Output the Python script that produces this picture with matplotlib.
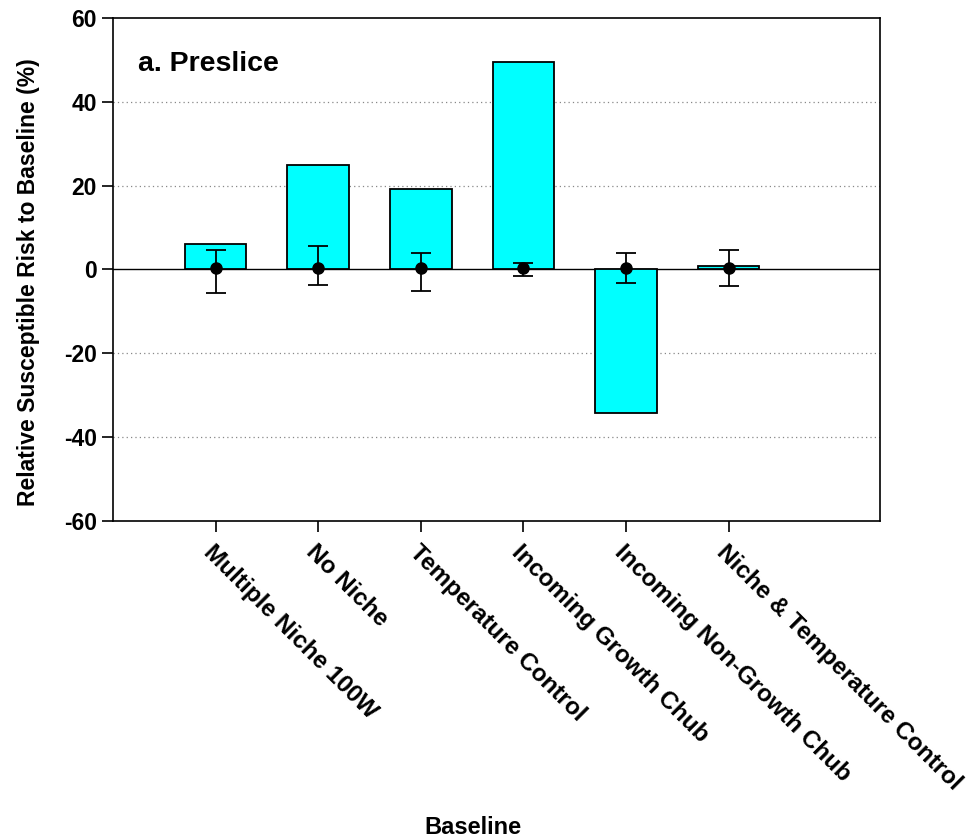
import numpy as np
import matplotlib
matplotlib.use("Agg")
import matplotlib.pyplot as plt

plt.rcParams['font.family'] = ['Liberation Sans', 'DejaVu Sans']
plt.rcParams['font.weight'] = 'bold'
plt.rcParams['axes.unicode_minus'] = False

# data
scenarios = ["Multiple Niche 100W", "No Niche", "Temperature Control",
             "Incoming Growth Chub", "Incoming Non-Growth Chub",
             "Niche & Temperature Control"]
relative_risk = [6.1, 24.9, 19.2, 49.5, -34.2, 0.9]
point_mean = [0.3, 0.3, 0.3, 0.3, 0.3, 0.3]
err_upper = [4.3, 5.3, 3.6, 1.3, 3.6, 4.4]
err_lower = [5.8, 4.1, 5.4, 1.8, 3.6, 4.2]
y_ticks = [-60, -40, -20, 0, 20, 40, 60]
grid_levels = [-40, -20, 20, 40]

fig = plt.figure(figsize=(9.8, 8.4), dpi=100)
ax = fig.add_axes([0.1153, 0.3798, 0.7827, 0.5988])

x = np.arange(1, len(scenarios) + 1)

for g in grid_levels:
    ax.axhline(g, color='#888888', lw=0.9, ls=(0, (1, 2.5)), zorder=0)
ax.axhline(0, color='black', lw=1.0, zorder=1)

ax.bar(x, relative_risk, width=0.6, color='#00ffff', edgecolor='black',
       linewidth=1.3, zorder=2)
ax.errorbar(x, point_mean, yerr=[err_lower, err_upper], fmt='o', color='black',
            ecolor='black', elinewidth=1.3, capsize=7, capthick=1.3,
            markersize=8, zorder=3)

ax.set_xlim(0, 7.475)
ax.set_ylim(-60, 60)
ax.set_yticks(y_ticks)
ax.set_xticks(x)
ax.set_xticklabels(scenarios, rotation=-45, ha='left', va='top',
                   rotation_mode='anchor', fontsize=17.5, fontweight='bold')
for lab in ax.get_yticklabels():
    lab.set_fontsize(16.5)
    lab.set_fontweight('bold')

ax.tick_params(direction='out', length=8, width=1.2, top=False, right=False)
ax.tick_params(axis='x', pad=6)
for sp in ax.spines.values():
    sp.set_linewidth(1.2)

ax.set_ylabel("Relative Susceptible Risk to Baseline (%)", fontsize=16.5,
              fontweight='bold')
ax.yaxis.set_label_coords(-0.095, 0.475)
ax.text(0.033, 0.895, "a. Preslice", transform=ax.transAxes, fontsize=20.5,
        fontweight='bold', ha='left', va='baseline')
fig.text(473 / 980, 1 - 828 / 840, "Baseline", fontsize=17, fontweight='bold',
         ha='center', va='center')

fig.savefig("out.png", dpi=100)
